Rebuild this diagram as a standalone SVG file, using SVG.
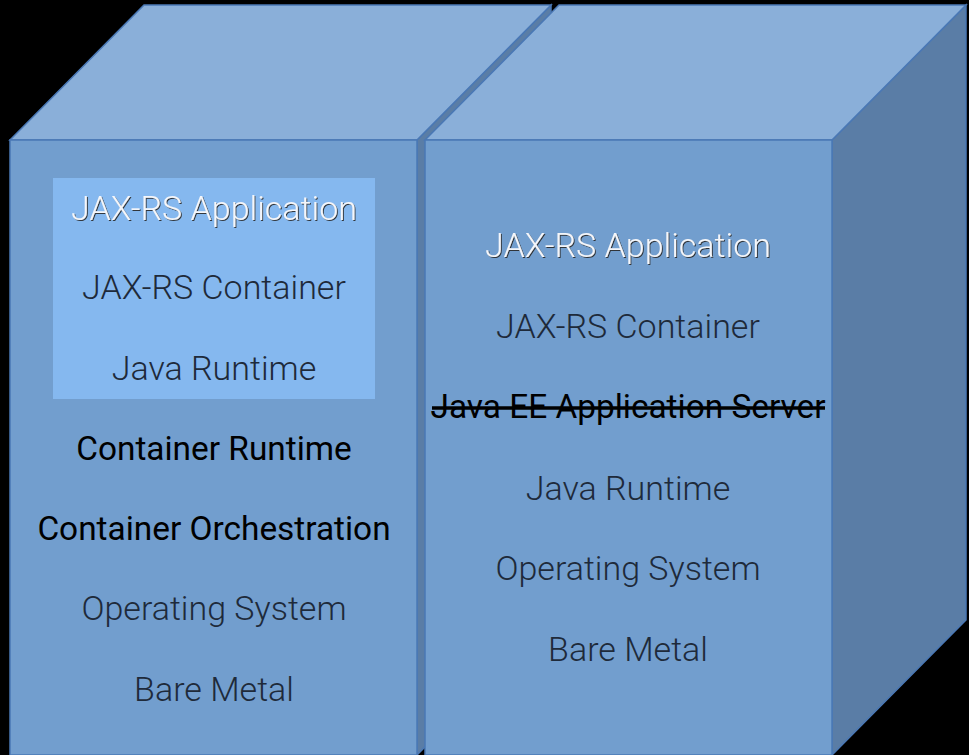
<svg xmlns="http://www.w3.org/2000/svg" width="969" height="755" viewBox="0 0 969 755">
<defs>
<style>
.top{fill:#8AAFD9;stroke:#4A78B5;stroke-width:1.5;stroke-linejoin:miter}
.front{fill:#729ECE;stroke:#4A78B5;stroke-width:1.5}
.side{fill:#5A7DA6;stroke:#4A78B5;stroke-width:1.5}
.inner{fill:#85B8EF;stroke:none}
text{font-family:Roboto,"Liberation Sans",sans-serif;font-size:34px;text-anchor:middle}
.lt{font-weight:300;fill:#1E2A3A}
.rg{font-weight:400;fill:#000000;font-size:33.4px}
.hl{font-weight:300;fill:#F4F6FA;filter:url(#sh)}
</style>
<filter id="sh" x="-5%" y="-20%" width="110%" height="140%">
<feDropShadow dx="1" dy="1" stdDeviation="0.4" flood-color="#2a2a2a" flood-opacity="0.9"/>
</filter>
</defs>
<rect x="0" y="0" width="969" height="755" fill="#000000"/>
<g id="cube-left">
<polygon class="side" points="417,140 551,5 551,620 417,755"/>
<polygon class="top" points="10,140 417,140 551,5 144,5"/>
<rect class="front" x="10" y="140" width="407" height="615"/>
</g>
<g id="cube-right">
<polygon class="side" points="832,140 966,5 966,620 832,755"/>
<polygon class="top" points="425,140 832,140 966,5 559,5"/>
<rect class="front" x="425" y="140" width="407" height="615"/>
</g>
<g id="container-box">
<rect class="inner" x="53" y="178" width="322" height="221"/>
<text class="hl" x="214" y="220">JAX-RS Application</text>
<text class="lt" x="214" y="299">JAX-RS Container</text>
<text class="lt" x="214" y="380">Java Runtime</text>
</g>
<g id="left-stack">
<text class="rg" x="214" y="460">Container Runtime</text>
<text class="rg" x="214" y="540">Container Orchestration</text>
<text class="lt" x="214" y="620">Operating System</text>
<text class="lt" x="214" y="701">Bare Metal</text>
</g>
<g id="right-stack">
<text class="hl" x="628" y="257">JAX-RS Application</text>
<text class="lt" x="628" y="338">JAX-RS Container</text>
<text class="rg" x="628" y="418">Java EE Application Server</text>
<line x1="432" y1="408" x2="825" y2="408" stroke="#000000" stroke-width="3.5"/>
<text class="lt" x="628" y="500">Java Runtime</text>
<text class="lt" x="628" y="580">Operating System</text>
<text class="lt" x="628" y="661">Bare Metal</text>
</g>
</svg>
